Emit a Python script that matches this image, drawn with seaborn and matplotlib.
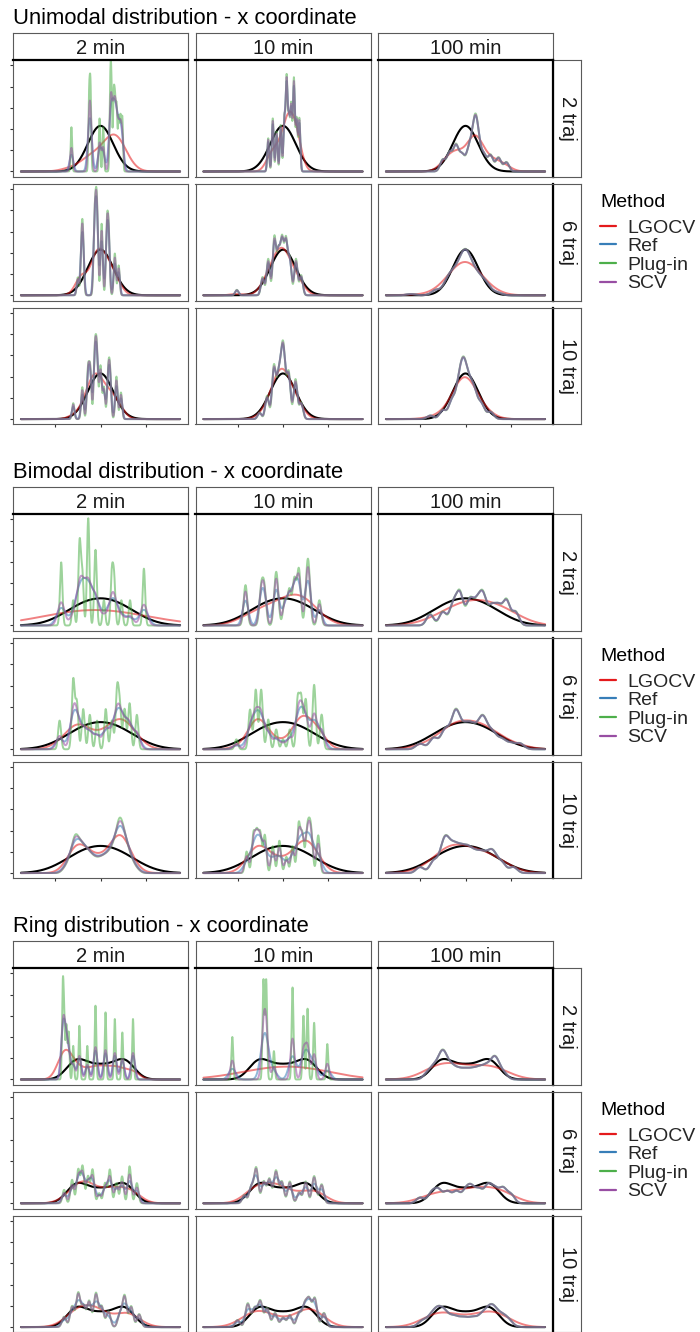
import numpy as np
import matplotlib
matplotlib.use("Agg")
import matplotlib.pyplot as plt
from matplotlib.lines import Line2D
import seaborn as sns

sns.set_theme(style="white")
plt.rcParams["font.family"] = ["Liberation Sans", "DejaVu Sans"]

# ---------------------------------------------------------------- labels
TIMES = ["2 min", "10 min", "100 min"]
TRAJS = ["2 traj", "6 traj", "10 traj"]
METHODS = ["LGOCV", "Ref", "Plug-in", "SCV"]
METHOD_COLORS = ["#E41A1C", "#377EB8", "#4DAF4A", "#984EA3"]
SECTION_TITLES = ["Unimodal distribution - x coordinate",
                  "Bimodal distribution - x coordinate",
                  "Ring distribution - x coordinate"]

# ---------------------------------------------------------------- data
# Per panel (rows = 2/6/10 traj, columns = 2/10/100 min): observed x positions,
# their weights, and the bandwidth chosen by each method (LGOCV, Ref, Plug-in, SCV).
UNI_POS = [
    [-12.8, -5.0, -4.4, -0.4, 1.2, 4.3, 4.8, 5.8, 6.4, 7.1, 8.0, 8.8, 9.6],
    [-6.5, -4.5, -2.8, -1.0, 0.6, 1.6, 2.6, 3.6, 4.8, 6.0, 7.2],
    [-10, -7, -4.2, -1.5, 1.5, 3.6, 4.4, 5.5, 8, 11, 14.5, 18],
    [-10, -8.3, -7.7, -2.7, -2.0, -1.4, 0.5, 2.8, 3.6, 6.3, 8],
    [-20.3, -9, -6.5, -3.8, -2, -0.4, 1.3, 3, 5.7, 8],
    [-24, -13, -8, -5, -2, 0, 2, 5, 8, 10, 14],
    [-12, -8, -5.5, -4.5, -2.5, -1.6, 0, 1.5, 3.4, 4.2, 7, 9],
    [-10.3, -7, -4, -2, -0.5, 0.5, 2.5, 5.5, 8],
    [-15.5, -10, -6, -3, -1.2, 0, 2, 4, 7, 11],
]
UNI_WT = [
    [0.05, 0.08, 0.09, 0.06, 0.05, 0.085, 0.085, 0.08, 0.07, 0.07, 0.06, 0.06, 0.06],
    [0.05, 0.08, 0.06, 0.07, 0.08, 0.14, 0.08, 0.1, 0.14, 0.08, 0.08],
    [0.05, 0.08, 0.11, 0.07, 0.09, 0.1, 0.1, 0.1, 0.07, 0.07, 0.06, 0.04],
    [0.03, 0.08, 0.08, 0.1, 0.11, 0.1, 0.12, 0.11, 0.1, 0.07, 0.05],
    [0.015, 0.05, 0.1, 0.16, 0.12, 0.15, 0.15, 0.1, 0.1, 0.055],
    [0.01, 0.04, 0.1, 0.13, 0.16, 0.16, 0.15, 0.12, 0.07, 0.04, 0.02],
    [0.03, 0.06, 0.09, 0.09, 0.12, 0.12, 0.1, 0.06, 0.08, 0.08, 0.08, 0.05],
    [0.02, 0.07, 0.16, 0.12, 0.14, 0.14, 0.14, 0.12, 0.05],
    [0.02, 0.05, 0.1, 0.15, 0.17, 0.14, 0.13, 0.12, 0.08, 0.04],
]
UNI_BW = [
    [4.5, 0.85, 0.32, 0.6], [2.2, 0.45, 0.4, 0.42], [3.0, 1.25, 1.15, 1.2],
    [2.6, 0.6, 0.45, 0.5], [2.8, 0.8, 0.7, 0.75], [5.0, 2.0, 1.9, 1.95],
    [2.6, 0.65, 0.5, 0.55], [3.0, 0.9, 0.8, 0.85], [4.0, 1.5, 1.4, 1.45],
]

BI_POS = [
    [-17.3, -12, -9.2, -8.0, -5.4, -2.2, 1.5, 5.0, 6.0, 9.2, 13, 19.1],
    [-16.5, -9.6, -8.2, -3.3, -2.5, 0.8, 2.8, 5.0, 7.0, 10.6, 11.4, 16],
    [-15.6, -10, -5.5, -2.5, 1.9, 5, 7.7, 11.5, 14.5, 18, 22],
    [-18, -12, -10.4, -7.6, -4.7, -1.5, 2.3, 5, 7.3, 8.5, 10.6, 12.8, 16],
    [-20.5, -14.5, -12, -9.6, -6.5, -3, 0, 3, 6.5, 8, 10, 13.7, 17],
    [-20, -14, -9, -5, -3.5, 0, 3, 6.5, 8.5, 12, 16, 20, 24],
    [-16, -14, -12, -10.5, -8.5, -6.5, -4.5, -2.5, -0.5, 1.5, 3.5, 5.5, 7.5,
     8.8, 10.5, 12.5, 14.5, 16.5],
    [-16, -13, -11.5, -10, -8, -4.5, -1.6, 1.5, 4.2, 6.9, 8.5, 10.5, 11.5, 12.5, 15.5],
    [-20, -14, -10, -8, -5, -2, 1, 4, 7, 10, 12.5, 16, 21],
]
BI_WT = [
    [0.1, 0.04, 0.13, 0.08, 0.17, 0.12, 0.04, 0.08, 0.07, 0.04, 0.04, 0.09],
    [0.08, 0.07, 0.07, 0.07, 0.05, 0.05, 0.07, 0.09, 0.11, 0.08, 0.07, 0.05],
    [0.05, 0.06, 0.09, 0.14, 0.11, 0.09, 0.13, 0.08, 0.08, 0.11, 0.06],
    [0.05, 0.12, 0.08, 0.07, 0.06, 0.05, 0.07, 0.05, 0.1, 0.07, 0.07, 0.08, 0.06],
    [0.02, 0.08, 0.12, 0.12, 0.06, 0.04, 0.02, 0.04, 0.1, 0.1, 0.1, 0.13, 0.07],
    [0.03, 0.06, 0.1, 0.11, 0.11, 0.1, 0.1, 0.1, 0.1, 0.08, 0.05, 0.03, 0.03],
    [0.2, 0.5, 1.1, 1.4, 1.2, 1.0, 0.8, 0.6, 0.6, 0.7, 0.8, 1.1, 1.5, 1.75, 1.5,
     0.9, 0.4, 0.15],
    [0.04, 0.07, 0.07, 0.07, 0.07, 0.05, 0.06, 0.03, 0.05, 0.09, 0.07, 0.06, 0.06,
     0.06, 0.07],
    [0.03, 0.06, 0.1, 0.11, 0.11, 0.1, 0.1, 0.08, 0.08, 0.07, 0.08, 0.05, 0.03],
]
BI_BW = [
    [20, 2.0, 0.55, 1.5], [6.0, 1.3, 0.8, 0.95], [8.0, 1.6, 1.5, 1.6],
    [4.5, 1.8, 0.65, 1.4], [3.5, 1.9, 0.7, 1.3], [6.0, 1.9, 1.8, 1.85],
    [3.5, 2.1, 1.3, 1.6], [4.0, 1.8, 0.7, 0.9], [6.0, 1.8, 1.7, 1.75],
]

RING_POS = [
    [-16.6, -16.0, -15.0, -14.0, -12, -9.3, -5.8, -2.2, 2.2, 6.3, 9.6, 14.3],
    [-22.3, -8.6, -7.4, -4, 4.2, 9, 10.8, 13.7, 19.5],
    [-17, -14, -11, -9, -6, -3, 0, 3, 6, 9, 12, 14, 17],
    [-16, -12.5, -9.8, -7.9, -5.5, -3.5, -0.6, 2, 4.1, 7, 9.5, 12.8, 16],
    [-17, -14, -11.8, -8.5, -6, -3.1, -0.5, 3, 7.1, 10, 13.7, 17],
    [-20, -15, -12, -8, -4, 0, 2.6, 6, 9.9, 13, 16.5, 20],
    [-16, -12.5, -9.8, -7.5, -5, -2, 0.5, 3.5, 8.5, 10.6, 13.5, 17],
    [-20, -15.5, -12.5, -10, -7, -3.5, 0, 3, 7, 9.5, 11.5, 14, 18],
    [-19, -15, -12, -9, -5, -1, 3, 7, 10, 12.5, 16, 19],
]
RING_WT = [
    [0.13, 0.08, 0.08, 0.07, 0.05, 0.08, 0.05, 0.11, 0.1, 0.09, 0.07, 0.09],
    [0.06, 0.14, 0.14, 0.04, 0.13, 0.09, 0.1, 0.08, 0.05],
    [0.04, 0.08, 0.12, 0.12, 0.08, 0.06, 0.06, 0.06, 0.07, 0.08, 0.1, 0.09, 0.04],
    [0.04, 0.07, 0.1, 0.11, 0.08, 0.1, 0.03, 0.06, 0.1, 0.06, 0.08, 0.11, 0.06],
    [0.03, 0.06, 0.13, 0.08, 0.09, 0.12, 0.08, 0.08, 0.04, 0.08, 0.1, 0.07],
    [0.04, 0.07, 0.09, 0.08, 0.08, 0.08, 0.1, 0.09, 0.12, 0.09, 0.1, 0.06],
    [0.04, 0.08, 0.13, 0.08, 0.1, 0.13, 0.08, 0.06, 0.05, 0.12, 0.08, 0.05],
    [0.03, 0.1, 0.08, 0.11, 0.08, 0.06, 0.04, 0.05, 0.06, 0.09, 0.11, 0.12, 0.06],
    [0.05, 0.08, 0.12, 0.1, 0.08, 0.07, 0.07, 0.08, 0.1, 0.12, 0.08, 0.05],
]
RING_BW = [
    [3.0, 0.9, 0.35, 0.8], [14.0, 1.6, 0.4, 0.9], [7.0, 1.7, 1.6, 1.65],
    [4.0, 1.2, 0.7, 0.9], [4.5, 1.3, 0.9, 0.95], [6.0, 1.7, 1.6, 1.65],
    [4.5, 1.5, 0.9, 0.95], [5.0, 1.5, 1.0, 1.05], [6.0, 2.0, 1.9, 1.95],
]

# true densities, written as kernel mixtures
UNI_TRUE_POS, UNI_TRUE_WT, UNI_TRUE_BW = [-1, 1], [0.5, 0.5], 5.5
BI_TRUE_POS, BI_TRUE_WT, BI_TRUE_BW = [-7, 7], [0.5, 0.5], 10.0
RING_TRUE_POS = [-11, -5.5, 0, 5.5, 11]
RING_TRUE_WT = [0.3, 0.12, 0.16, 0.12, 0.3]
RING_TRUE_BW = 4.3

# upper end of the density axis in each block
DENSITY_TOP = [0.166, 0.122, 0.18]

X_RANGE = (-35, 35)
X_TICKS = [-20, 0, 20]

# ---------------------------------------------------------------- layout (px)
W_PX, H_PX = 700, 1332
COL_X = [13, 195.5, 378]
PANEL_W, PANEL_H = 175, 116.8
STRIP_H = 27
ROW_STEP = 123.8
BLOCK_STEP = 454
STRIP_R_X, STRIP_R_W = 553, 28
GREY = "#5A5A5A"

fig = plt.figure(figsize=(W_PX / 100, H_PX / 100), dpi=100)
fig.patch.set_facecolor("white")


def rect(x, y, w, h):
    return [x / W_PX, 1 - (y + h) / H_PX, w / W_PX, h / H_PX]


def kde_line(ax, pos, wt, bw, **kw):
    pos = np.asarray(pos, float)
    wt = np.asarray(wt, float)
    sd = np.sqrt(np.cov(pos, aweights=wt))
    sns.kdeplot(x=pos, weights=wt, bw_method=bw / sd, cut=600, clip=X_RANGE,
                gridsize=1400, ax=ax, **kw)


def strip(ax, label, rotation=0):
    ax.set_facecolor("white")
    ax.set_xticks([])
    ax.set_yticks([])
    for sp in ax.spines.values():
        sp.set_color(GREY)
        sp.set_linewidth(0.8)
    if rotation:
        ax.text(0.5, 0.5, label, rotation=-90, ha="center", va="center",
                fontsize=14.5, color="#1A1A1A", transform=ax.transAxes)
    else:
        ax.text(0.5, 0.22, label, ha="center", va="baseline",
                fontsize=14.5, color="#1A1A1A", transform=ax.transAxes)


blocks = [
    (UNI_POS, UNI_WT, UNI_BW, UNI_TRUE_POS, UNI_TRUE_WT, UNI_TRUE_BW),
    (BI_POS, BI_WT, BI_BW, BI_TRUE_POS, BI_TRUE_WT, BI_TRUE_BW),
    (RING_POS, RING_WT, RING_BW, RING_TRUE_POS, RING_TRUE_WT, RING_TRUE_BW),
]

for b, (P, Wt, Bw, tp, tw, tb) in enumerate(blocks):
    top0 = 33 + BLOCK_STEP * b
    ytop = DENSITY_TOP[b]
    fig.text(13 / W_PX, 1 - (top0 - 9) / H_PX, SECTION_TITLES[b],
             fontsize=15.8, va="baseline", ha="left", color="black")

    for c, t in enumerate(TIMES):
        strip(fig.add_axes(rect(COL_X[c], top0, PANEL_W, STRIP_H)), t)

    for r, tr in enumerate(TRAJS):
        ptop = top0 + STRIP_H + r * ROW_STEP
        strip(fig.add_axes(rect(STRIP_R_X, ptop, STRIP_R_W, PANEL_H)), tr, rotation=True)
        for c in range(3):
            ax = fig.add_axes(rect(COL_X[c], ptop, PANEL_W, PANEL_H))
            ax.set_facecolor("white")
            i = r * 3 + c
            kde_line(ax, tp, tw, tb, color="black", linewidth=1.5)
            for m, col in enumerate(METHOD_COLORS):
                kde_line(ax, P[i], Wt[i], Bw[i][m], color=col, alpha=0.55,
                         linewidth=1.4)
            ax.set_xlim(X_RANGE[0] - 3.5, X_RANGE[1] + 3.5)
            ax.set_ylim(-0.05 * ytop, 1.05 * ytop)
            ax.set_xlabel("")
            ax.set_ylabel("")
            ax.grid(False)
            ax.set_xticks(X_TICKS)
            ax.set_yticks(np.linspace(0, ytop, 6))
            ax.tick_params(axis="both", direction="out", length=2.2, width=0.8,
                           color="#333333", labelleft=False, labelbottom=False,
                           left=(c == 0), bottom=(r == 2))
            for sp in ax.spines.values():
                sp.set_color(GREY)
                sp.set_linewidth(0.8)
            if r == 0:
                ax.spines["top"].set_color("black")
                ax.spines["top"].set_linewidth(1.6)
            if c == 2:
                ax.spines["right"].set_color("black")
                ax.spines["right"].set_linewidth(1.6)

    # legend for this block
    fig.text(600 / W_PX, 1 - (207 + BLOCK_STEP * b) / H_PX, "Method",
             fontsize=14, va="baseline", ha="left", color="black")
    handles = [Line2D([], [], color=col, linewidth=1.6) for col in METHOD_COLORS]
    fig.legend(handles, METHODS, loc="upper left",
               bbox_to_anchor=(600 / W_PX, 1 - (219 + BLOCK_STEP * b) / H_PX),
               frameon=False, fontsize=14, handlelength=0.82, handletextpad=0.58,
               labelspacing=0.05, borderpad=0, borderaxespad=0)

fig.savefig("out.png", dpi=100, facecolor="white")
